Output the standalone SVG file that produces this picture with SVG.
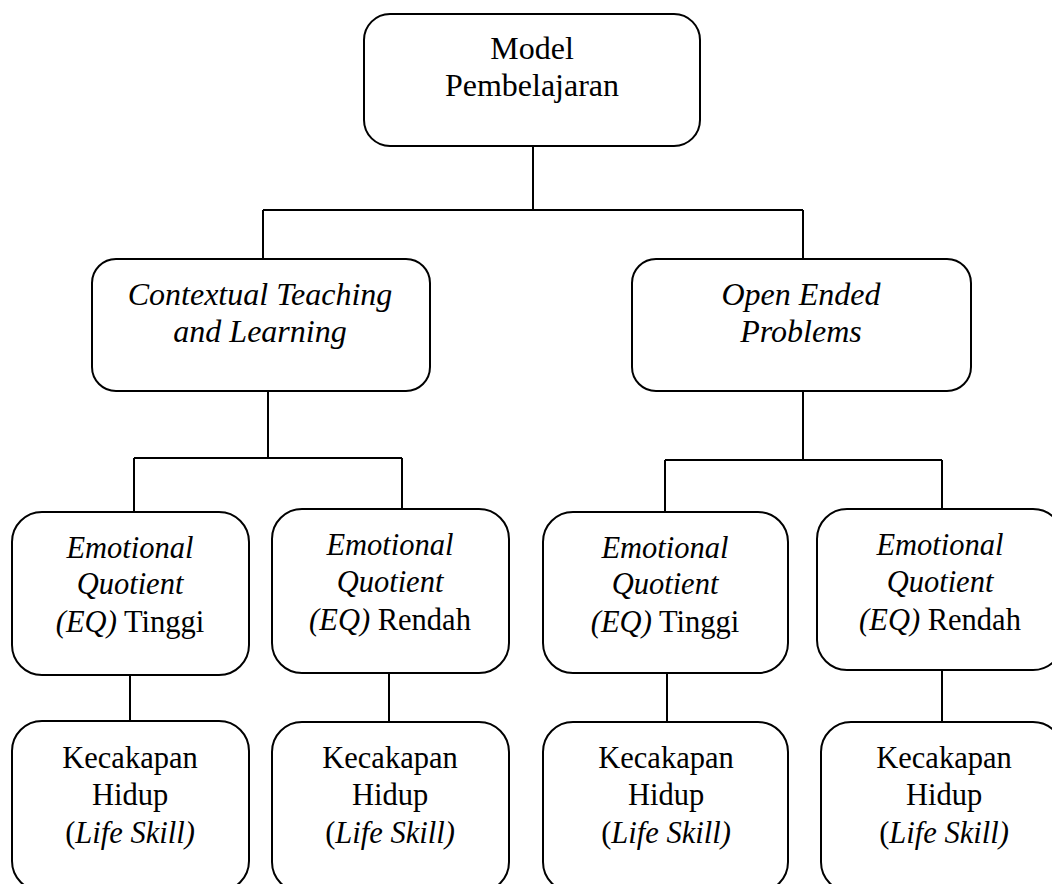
<svg xmlns="http://www.w3.org/2000/svg" width="1052" height="884" viewBox="0 0 1052 884">
<style>
.box{fill:#fff;stroke:#000;stroke-width:2}
.ln{fill:none;stroke:#000;stroke-width:2}
text{font-family:"Liberation Serif","Times New Roman",serif;fill:#000;text-anchor:middle}
.big{font-size:32px}
.sm{font-size:30.5px}
.i{font-style:italic}
</style>
<rect width="1052" height="884" fill="#fff"/>
<g id="connectors">
<path class="ln" d="M533 146V210M263 210H803M263 210V259M803 210V259"/>
<path class="ln" d="M268 391V458M134 458H402M134 458V512M402 458V509"/>
<path class="ln" d="M803 391V460M665 460H942M665 460V512M942 460V509"/>
<path class="ln" d="M130 675V721M389 673V722M667 673V722M942 670V722"/>
</g>
<g id="n-model">
<rect class="box" x="364" y="14" width="336" height="132" rx="26"/>
<text class="big" x="532" y="59">Model</text>
<text class="big" x="532" y="96">Pembelajaran</text>
</g>
<g id="n-ctl">
<rect class="box" x="92" y="259" width="338" height="132" rx="24"/>
<text class="big i" x="260" y="305">Contextual Teaching</text>
<text class="big i" x="260" y="342">and Learning</text>
</g>
<g id="n-oep">
<rect class="box" x="632" y="259" width="339" height="132" rx="24"/>
<text class="big i" x="801" y="305">Open Ended</text>
<text class="big i" x="801" y="342">Problems</text>
</g>
<g id="n-eq1">
<rect class="box" x="12" y="512" width="237" height="163" rx="30"/>
<text class="sm i" x="130" y="558">Emotional</text>
<text class="sm i" x="130" y="594">Quotient</text>
<text class="sm" x="130" y="632"><tspan class="i">(EQ)</tspan> Tinggi</text>
</g>
<g id="n-eq2">
<rect class="box" x="272" y="509" width="237" height="164" rx="30"/>
<text class="sm i" x="390" y="555">Emotional</text>
<text class="sm i" x="390" y="592">Quotient</text>
<text class="sm" x="390" y="630"><tspan class="i">(EQ)</tspan> Rendah</text>
</g>
<g id="n-eq3">
<rect class="box" x="543" y="512" width="245" height="161" rx="30"/>
<text class="sm i" x="665" y="558">Emotional</text>
<text class="sm i" x="665" y="594">Quotient</text>
<text class="sm" x="665" y="632"><tspan class="i">(EQ)</tspan> Tinggi</text>
</g>
<g id="n-eq4">
<rect class="box" x="817" y="509" width="246" height="161" rx="30"/>
<text class="sm i" x="940" y="555">Emotional</text>
<text class="sm i" x="940" y="592">Quotient</text>
<text class="sm" x="940" y="630"><tspan class="i">(EQ)</tspan> Rendah</text>
</g>
<g id="n-ls1">
<rect class="box" x="12" y="721" width="237" height="170" rx="30"/>
<text class="sm" x="130" y="768">Kecakapan</text>
<text class="sm" x="130" y="805">Hidup</text>
<text class="sm" x="130" y="843">(<tspan class="i">Life Skill)</tspan></text>
</g>
<g id="n-ls2">
<rect class="box" x="272" y="722" width="237" height="170" rx="30"/>
<text class="sm" x="390" y="768">Kecakapan</text>
<text class="sm" x="390" y="805">Hidup</text>
<text class="sm" x="390" y="843">(<tspan class="i">Life Skill)</tspan></text>
</g>
<g id="n-ls3">
<rect class="box" x="543" y="722" width="245" height="170" rx="30"/>
<text class="sm" x="666" y="768">Kecakapan</text>
<text class="sm" x="666" y="805">Hidup</text>
<text class="sm" x="666" y="843">(<tspan class="i">Life Skill)</tspan></text>
</g>
<g id="n-ls4">
<rect class="box" x="821" y="722" width="242" height="170" rx="30"/>
<text class="sm" x="944" y="768">Kecakapan</text>
<text class="sm" x="944" y="805">Hidup</text>
<text class="sm" x="944" y="843">(<tspan class="i">Life Skill)</tspan></text>
</g>
</svg>
